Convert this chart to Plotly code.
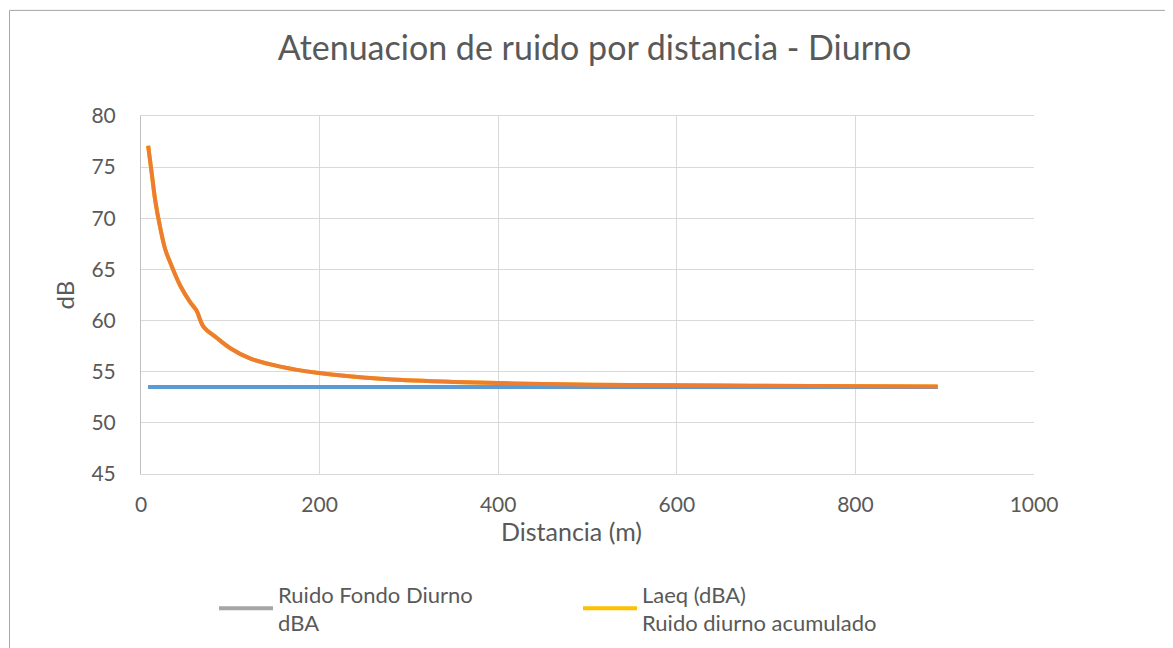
import plotly.graph_objects as go

# Data
distancia = [8, 12, 16, 21, 27, 34, 44, 55, 62, 70, 85, 100, 122, 156, 197,
             268, 350, 450, 550, 650, 750, 892]
laeq = [77.1, 74.4, 71.7, 69.3, 67.0, 65.4, 63.4, 61.8, 61.0, 59.4, 58.3, 57.3,
        56.3, 55.5, 54.9, 54.3, 54.0, 53.8, 53.7, 53.65, 53.6, 53.55]
fondo = [53.5] * len(distancia)

x_ticks = [0, 200, 400, 600, 800, 1000]
y_ticks = [45, 50, 55, 60, 65, 70, 75, 80]

FONT = "Lato"
TXT = "#595959"
GRID = "#d9d9d9"

# page offset of the figure (body margin) compensated in margins
L, T = 133, 108
PW, PH = 893, 361

fig = go.Figure()
# legend-visible series (drawn underneath)
fig.add_trace(go.Scatter(x=distancia, y=fondo, mode="lines",
                         name="Ruido Fondo Diurno<br>dBA",
                         line=dict(color="#a5a5a5", width=4)))
fig.add_trace(go.Scatter(x=distancia, y=laeq, mode="lines",
                         name="Laeq (dBA)<br>Ruido diurno acumulado",
                         line=dict(color="#ffc000", width=4, shape="spline")))
# visible series on top
fig.add_trace(go.Scatter(x=distancia, y=fondo, mode="lines", showlegend=False,
                         line=dict(color="#5b9bd5", width=4)))
fig.add_trace(go.Scatter(x=distancia, y=laeq, mode="lines", showlegend=False,
                         line=dict(color="#ed7d31", width=4, shape="spline")))

def px(xpix):
    return (xpix - 8 - L) / PW

def py(ypix):
    return 1 - (ypix - 8 - T) / PH

fig.update_layout(
    width=1173, height=648,
    margin=dict(l=L, r=1173 - L - PW, t=T, b=648 - T - PH),
    paper_bgcolor="white", plot_bgcolor="white",
    font=dict(family=FONT, color=TXT, size=21),
    title=dict(text="Atenuacion de ruido por distancia - Diurno",
               x=0.5, xanchor="center", y=1 - (48 - 8) / 648, yanchor="middle",
               font=dict(family=FONT, size=34, color=TXT)),
    showlegend=True,
    legend=dict(orientation="h", x=px(214), xanchor="left", y=py(577), yanchor="top",
                font=dict(family=FONT, size=22, color=TXT),
                entrywidth=295, entrywidthmode="pixels",
                itemwidth=54, bgcolor="rgba(0,0,0,0)", traceorder="normal"),
    xaxis=dict(range=[0, 1000], tickvals=x_ticks, showgrid=True, gridcolor=GRID,
               gridwidth=1, showline=True, linecolor=GRID, linewidth=1, mirror=True,
               zeroline=False, ticks="", ticklabelstandoff=12,
               tickfont=dict(family=FONT, size=21, color=TXT)),
    yaxis=dict(range=[45, 80], tickvals=y_ticks, showgrid=True, gridcolor=GRID,
               gridwidth=1, showline=True, linecolor="#bfbfbf", linewidth=1, mirror=False,
               zeroline=False, ticks="", ticklabelstandoff=20,
               tickfont=dict(family=FONT, size=21, color=TXT),
               title=dict(text="dB", standoff=10,
                          font=dict(family=FONT, size=24, color=TXT))),
    annotations=[dict(text="Distancia (m)", xref="paper", yref="paper",
                      x=px(571), y=py(534),
                      xanchor="center", yanchor="middle", showarrow=False,
                      font=dict(family=FONT, size=25, color=TXT))],
    shapes=[dict(type="rect", xref="paper", yref="paper",
                 x0=px(9.5), x1=px(1250),
                 y0=py(720), y1=py(9.5),
                 line=dict(color="#a6a6a6", width=1), layer="below")],
)

fig.write_html("out.html")
